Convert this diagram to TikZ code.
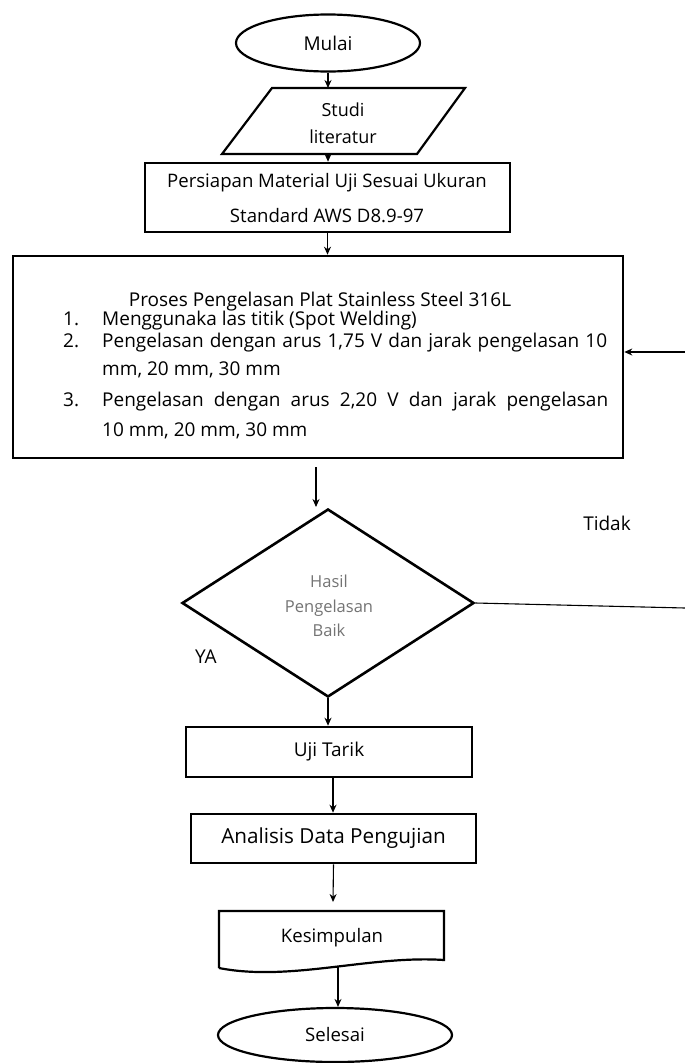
\documentclass[tikz,border=0pt]{standalone}
\usepackage{fontspec}
\setmainfont{Open Sans}
\usetikzlibrary{shapes.geometric,arrows.meta}
\begin{document}
\begin{tikzpicture}[x=1pt,y=-1pt,
  conn/.style={draw=black,line width=1.1pt,-{Stealth[length=8pt,width=7pt]}},
  procbox/.style={rectangle,draw=black,line width=2.6pt,inner sep=0pt},
  term/.style={ellipse,draw=black,line width=2.2pt,inner sep=0pt},
  lbl/.style={inner sep=0pt},
  listfont/.style={font=\fontsize{19}{22}\selectfont}]
\useasboundingbox (0,0) rectangle (685,1063);
% Mulai
\node[term,minimum width=184pt,minimum height=57pt,font=\fontsize{19}{22}\selectfont] (mulai) at (328,43) {Mulai};
% Studi literatur parallelogram
\coordinate (p1) at (272,88);
\coordinate (p2) at (465,88);
\coordinate (p3) at (417,154);
\coordinate (p4) at (222,154);
\draw[line width=2.2pt] (p1) -- (p2) -- (p3) -- (p4) -- cycle;
\node[lbl,align=center,font=\fontsize{18}{27}\selectfont] (studi) at (343,123) {Studi\\literatur};
\coordinate (studitop) at (328,88);
\coordinate (studibot) at (328,154);
% Persiapan
\node[procbox,minimum width=365pt,minimum height=69pt] (persiapan) at (327.5,197.5) {};
\node[lbl,align=center,font=\fontsize{18.6}{35}\selectfont] (persiapantxt) at (327,198) {Persiapan Material Uji Sesuai Ukuran\\Standard AWS D8.9-97};
% Proses
\node[procbox,minimum width=610pt,minimum height=202pt] (proses) at (318,357) {};
\node[lbl,listfont,anchor=base] (l0) at (320,306) {Proses Pengelasan Plat Stainless Steel 316L};
\node[lbl,listfont,anchor=base west] (n1) at (63,325) {1.};
\node[lbl,listfont,anchor=base west] (l1) at (102,325) {Menggunaka las titik (Spot Welding)};
\node[lbl,listfont,anchor=base west] (n2) at (63,347) {2.};
\node[lbl,listfont,anchor=base west] (l2) at (102,347) {\makebox[505pt][s]{Pengelasan dengan arus 1,75 V dan jarak pengelasan 10}};
\node[lbl,listfont,anchor=base west] (l2b) at (102,375) {mm, 20 mm, 30 mm};
\node[lbl,listfont,anchor=base west] (n3) at (63,406) {3.};
\node[lbl,listfont,anchor=base west] (l3) at (102,406) {\makebox[506pt][s]{Pengelasan dengan arus 2,20 V dan jarak pengelasan}};
\node[lbl,listfont,anchor=base west] (l3b) at (102,436) {10 mm, 20 mm, 30 mm};
% Diamond
\node[diamond,draw=black,line width=2.6pt,minimum width=292pt,minimum height=188pt,inner sep=0pt] (dec) at (328,603) {};
\node[lbl,align=center,text=black!55,font=\fontsize{16.5}{24.5}\selectfont] (dectxt) at (329,606) {Hasil\\Pengelasan\\Baik};
\node[lbl,font=\fontsize{19}{22}\selectfont] (tidak) at (607,523) {Tidak};
\node[lbl,font=\fontsize{19}{22}\selectfont] (ya) at (206,657) {YA};
% Uji Tarik
\node[procbox,minimum width=286pt,minimum height=50pt,font=\fontsize{19}{22}\selectfont] (uji) at (329,752) {Uji Tarik};
% Analisis
\node[procbox,minimum width=285pt,minimum height=49pt,font=\fontsize{20.7}{24}\selectfont] (analisis) at (333.5,838.5) {Analisis Data Pengujian};
% Kesimpulan (document)
\coordinate (k1) at (219,911);
\coordinate (k2) at (444,911);
\coordinate (k3) at (444,960);
\coordinate (k4) at (219,968);
\draw[line width=2.2pt] (k4) -- (k1) -- (k2) -- (k3) .. controls (370,955) and (290,982) .. (k4);
\node[lbl,font=\fontsize{18.6}{22}\selectfont] (kesimpulan) at (332,938) {Kesimpulan};
\coordinate (kesbot) at (338,966);
% Selesai
\node[term,minimum width=234pt,minimum height=54pt,font=\fontsize{18.6}{22}\selectfont] (selesai) at (335,1035) {Selesai};
% connectors
\draw[conn] (mulai.south) -- (studitop);
\draw[conn] (studibot) -- (studibot|-persiapan.north);
\draw[conn] (persiapan.south) -- (persiapan.south|-proses.north);
\coordinate (a1) at (316,467);
\coordinate (a2) at (316,507);
\draw[conn] (a1) -- (a2);
\draw[conn] (dec.south) -- (dec.south|-uji.north);
\draw[conn] ([xshift=4pt]uji.south) -- ([xshift=4pt]uji.south|-analisis.north);
\coordinate (a3) at (333,902);
\draw[conn] (analisis.south) -- (a3);
\draw[conn] (kesbot) -- (kesbot|-selesai.north);
\coordinate (r1) at (685,608);
\draw[line width=1.1pt] (dec.east) -- (r1);
\coordinate (r2) at (685,352);
\draw[conn] (r2) -- (proses.east|-r2);
\end{tikzpicture}
\end{document}
